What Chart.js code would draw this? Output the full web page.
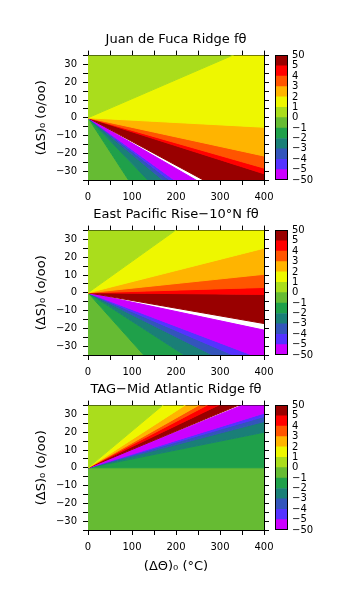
<!DOCTYPE html>
<html>
<head>
<meta charset="utf-8">
<script src="https://cdn.jsdelivr.net/npm/chart.js@4"></script>
<style>
  body { margin: 0; background: #fff; }
  #wrap { position: relative; width: 351px; height: 599px; overflow: hidden; }
  canvas { position: absolute; }
</style>
</head>
<body>
<div id="wrap">
  <canvas id="p1" width="351" height="204" style="left:0;top:0"></canvas>
  <canvas id="c1" width="81" height="204" style="left:270px;top:0"></canvas>
  <canvas id="p2" width="351" height="204" style="left:0;top:175px"></canvas>
  <canvas id="c2" width="81" height="204" style="left:270px;top:175px"></canvas>
  <canvas id="p3" width="351" height="230" style="left:0;top:350px"></canvas>
  <canvas id="c3" width="81" height="230" style="left:270px;top:350px"></canvas>
</div>
<script>
// contour levels of f_theta, one colour per band between two levels
const levelLabels = ['\u221250', '\u22125', '\u22124', '\u22123', '\u22122', '\u22121', '0', '1', '2', '3', '4', '5', '50'];
const bandColors = ['#cc00ff', '#5533ff', '#3355bb', '#1a7f77', '#1fa04a', '#66bb33',
                    '#aadd1c', '#eef700', '#ffb400', '#ff5500', '#ff0000', '#990000'];

// the contours are rays from the origin. each edge is the (ΔS)0 value the ray
// has at (ΔΘ)0 = 400, listed clockwise from the +ΔS axis (Infinity = the axis).
// bandOrder gives the band between two edges (null = blank, |f| > 50)
const bandOrder = [6, 7, 8, 9, 10, 11, null, 0, 1, 2, 3, 4, 5];
const jdfEdges = [Infinity, 42.8, -5.3, -21.5, -28.3, -31.5, -53.4, -57.1, -71.4, -75.7, -82.4, -102.9, -152.2, -Infinity];
const eprEdges = [Infinity, 70.7, 25.1, 10.4, 3.0, -0.9, -17.3, -21.0, -37.6, -42.5, -49.5, -64.0, -110.7, -Infinity];
const tagEdges = [Infinity, 82.8, 63.9, 56.0, 52.1, 47.5, 41.2, 40.2, 30.7, 28.8, 26.0, 20.0, 0, -Infinity];

const black = '#000';
Chart.defaults.font.family = 'DejaVu Sans';
Chart.defaults.color = black;

function minus(v) {
  return v < 0 ? '\u2212' + Math.abs(v) : String(v);
}

// far end of a ray, well outside the plot so the wedge covers the whole box
function rayEnd(v) {
  if (v === Infinity) return { x: 0, y: 4000 };
  if (v === -Infinity) return { x: 0, y: -4000 };
  return { x: 4000, y: v * 10 };
}

function wedges(edges) {
  const sets = [];
  bandOrder.forEach((b, i) => {
    if (b === null) return;
    sets.push({
      data: [{ x: 0, y: 0 }, rayEnd(edges[i]), rayEnd(edges[i + 1]), { x: 0, y: 0 }],
      fill: 'shape',
      backgroundColor: bandColors[b],
      borderColor: bandColors[b],
      borderWidth: 1,
      pointRadius: 0,
      tension: 0
    });
  });
  return sets;
}

const tickFont = { size: 10 };

function panel(id, title, edges, last) {
  const xAxis = {
    type: 'linear', position: 'bottom', min: 0, max: 400,
    ticks: { stepSize: 50, autoSkip: false, maxRotation: 0, padding: 6, font: tickFont,
             callback: v => (v % 100 === 0 ? v : '') },
    grid: { drawOnChartArea: false, tickLength: 5, color: black },
    border: { color: black },
    afterFit: s => { s.height = last ? 50 : 24; }
  };
  if (last) {
    xAxis.title = { display: true, text: '(\u0394\u0398)\u2080 (\u00b0C)', font: { size: 13 },
                    padding: { top: 0, bottom: 6 } };
  }
  new Chart(document.getElementById(id), {
    type: 'line',
    data: { datasets: wedges(edges) },
    options: {
      responsive: false, animation: false, devicePixelRatio: 1,
      layout: { padding: { left: 34, right: 81, top: 0, bottom: 0 } },
      plugins: {
        legend: { display: false },
        tooltip: { enabled: false },
        title: { display: true, text: title, fullSize: false,
                 font: { size: 13, weight: 'normal' }, padding: { top: 32, bottom: 2 } }
      },
      scales: {
        x: xAxis,
        x2: {
          type: 'linear', position: 'top', min: 0, max: 400,
          ticks: { stepSize: 50, display: false },
          grid: { drawOnChartArea: false, tickLength: 5, color: black },
          border: { color: black },
          afterFit: s => { s.height = 6; }
        },
        y: {
          type: 'linear', position: 'left', min: -35, max: 35,
          ticks: { stepSize: 5, autoSkip: false, padding: 6, font: tickFont,
                   callback: v => (v % 10 === 0 ? minus(v) : '') },
          grid: { drawOnChartArea: false, tickLength: 5, color: black },
          border: { color: black },
          title: { display: true, text: '(\u0394S)\u2080 (o/oo)', font: { size: 13 }, padding: 0 },
          afterFit: s => { s.width = 54; }
        },
        y2: {
          type: 'linear', position: 'right', min: -35, max: 35,
          ticks: { stepSize: 5, display: false },
          grid: { drawOnChartArea: false, tickLength: 5, color: black },
          border: { color: black },
          afterFit: s => { s.width = 6; }
        }
      }
    }
  });
}

const frame = {
  id: 'frame',
  afterDraw(chart) {
    const a = chart.chartArea, ctx = chart.ctx;
    ctx.save();
    ctx.strokeStyle = black;
    ctx.lineWidth = 1;
    ctx.strokeRect(Math.round(a.left) + 0.5, Math.round(a.top) + 0.5,
                   Math.round(a.width) - 1, Math.round(a.height) - 1);
    ctx.restore();
  }
};

function colorbar(id, bottomPad) {
  new Chart(document.getElementById(id), {
    type: 'bar',
    data: {
      labels: [''],
      datasets: bandColors.map(c => ({ data: [1], backgroundColor: c, borderWidth: 0,
                                       barPercentage: 1, categoryPercentage: 1 }))
    },
    options: {
      responsive: false, animation: false, devicePixelRatio: 1,
      layout: { padding: { left: 5, right: 0, top: 55.4, bottom: bottomPad } },
      plugins: { legend: { display: false }, tooltip: { enabled: false } },
      scales: {
        x: { stacked: true, display: false },
        y: {
          stacked: true, position: 'right', min: 0, max: 12,
          ticks: { stepSize: 1, autoSkip: false, padding: 4, font: tickFont,
                   callback: v => levelLabels[v] },
          grid: { display: false, drawTicks: false },
          border: { display: false },
          afterFit: s => { s.width = 63; }
        }
      }
    },
    plugins: [frame]
  });
}

panel('p1', 'Juan de Fuca Ridge f\u03b8', jdfEdges, false);
panel('p2', 'East Pacific Rise\u221210\u00b0N f\u03b8', eprEdges, false);
panel('p3', 'TAG\u2212Mid Atlantic Ridge f\u03b8', tagEdges, true);
colorbar('c1', 24);
colorbar('c2', 24);
colorbar('c3', 50);
</script>
</body>
</html>
